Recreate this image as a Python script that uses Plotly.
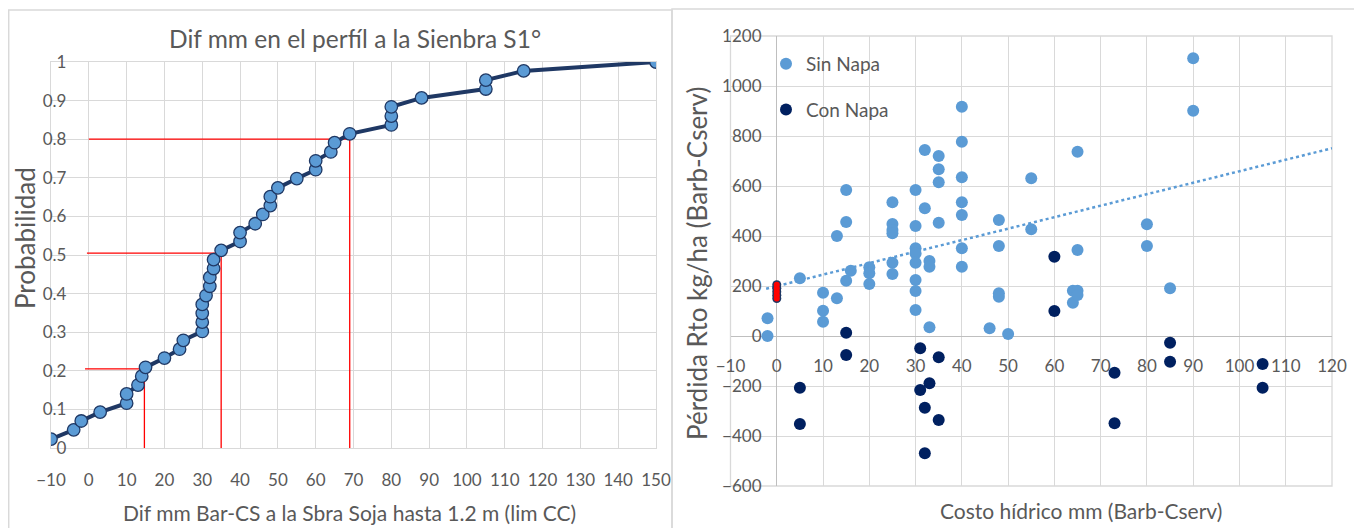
import plotly.graph_objects as go

# page body adds an 8px margin; the figure is sized/positioned to compensate
OFF = 8
W, H = 1362 - OFF, 528 - OFF
FONT = "Lato"
GRAY = "#595959"
GRID = "#D9D9D9"

# ---------------- Left chart data (cumulative probability) ----------------
dif_mm = [-10, -4, -2, 3, 10, 10, 13, 14, 15, 20, 24, 25, 30, 30, 30, 30, 31, 32, 32, 33,
          33, 35, 40, 40, 44, 46, 48, 48, 50, 55, 60, 60, 64, 65, 69, 80, 80, 80, 88, 105,
          105, 115, 150]
prob = [0.023, 0.047, 0.070, 0.093, 0.116, 0.140, 0.163, 0.186, 0.209, 0.233, 0.256, 0.279,
        0.302, 0.326, 0.349, 0.372, 0.395, 0.419, 0.442, 0.465, 0.488, 0.512, 0.535, 0.558,
        0.581, 0.605, 0.628, 0.651, 0.674, 0.698, 0.721, 0.744, 0.767, 0.791, 0.814, 0.837,
        0.860, 0.884, 0.907, 0.930, 0.953, 0.977, 1.000]

# red reference lines (probability level, x value, start of horizontal line)
guide_prob = [0.205, 0.505, 0.80]
guide_x = [14.7, 35, 69]
guide_start = [-1, -0.5, 0]

left_x_ticks = [-10, 0, 10, 20, 30, 40, 50, 60, 70, 80, 90, 100, 110, 120, 130, 140, 150]
left_y_ticks = [0, 0.1, 0.2, 0.3, 0.4, 0.5, 0.6, 0.7, 0.8, 0.9, 1]
left_y_labels = ["0", "0.1", "0.2", "0.3", "0.4", "0.5", "0.6", "0.7", "0.8", "0.9", "1"]

# ---------------- Right chart data (scatter) ----------------
sin_x = [-2, -2, 5, 10, 10, 10, 13, 13, 15, 15, 15, 16, 20, 20, 20,
         25, 25, 25, 25, 25, 25, 30, 30, 30, 30, 30, 30, 30, 30,
         32, 32, 33, 33, 33, 35, 35, 35, 35,
         40, 40, 40, 40, 40, 40, 40, 46, 48, 48, 48, 48, 50,
         55, 55, 64, 64, 65, 65, 65, 65, 80, 80, 85, 90, 90]
sin_y = [71, 0, 231, 173, 101, 57, 151, 400, 584, 456, 221, 261, 275, 251, 208,
         535, 448, 424, 411, 293, 248, 584, 440, 351, 330, 293, 224, 180, 104,
         744, 511, 300, 277, 35, 720, 667, 615, 453,
         917, 777, 635, 535, 484, 351, 277, 31, 464, 360, 171, 157, 8,
         631, 427, 181, 133, 181, 164, 737, 344, 447, 360, 191, 1111, 901]

con_x = [5, 5, 15, 15, 31, 31, 32, 32, 33, 35, 35, 60, 60, 73, 73, 85, 85, 105, 105]
con_y = [-207, -352, 13, -76, -49, -216, -287, -469, -189, -85, -336, 317, 100,
         -147, -349, -27, -103, -112, -207]

red_x = [0, 0, 0, 0, 0]
red_y = [150, 163, 177, 191, 205]

trend_x = [-2.3, 120]
trend_y = [189, 751]

right_x_ticks = [-10, 0, 10, 20, 30, 40, 50, 60, 70, 80, 90, 100, 110, 120]
right_y_ticks = [-600, -400, -200, 0, 200, 400, 600, 800, 1000, 1200]


def px_x(p):
    return (p - OFF) / W


def px_y(p):
    return 1 - (p - OFF) / H


fig = go.Figure()

# left chart traces
for gy, gx, gs in zip(guide_prob, guide_x, guide_start):
    fig.add_trace(go.Scatter(x=[gs, gx, gx], y=[gy, gy, 0], mode="lines",
                             line=dict(color="#FF0000", width=1.3),
                             xaxis="x", yaxis="y", showlegend=False, hoverinfo="skip"))

fig.add_trace(go.Scatter(x=dif_mm, y=prob, mode="lines+markers",
                         line=dict(color="#1F3864", width=4),
                         marker=dict(size=12.5, color="#5B9BD5",
                                     line=dict(color="#1F3864", width=1.3)),
                         xaxis="x", yaxis="y", showlegend=False))

# right chart traces
fig.add_trace(go.Scatter(x=trend_x, y=trend_y, mode="lines",
                         line=dict(color="#5B9BD5", width=2.5, dash="dot"),
                         xaxis="x2", yaxis="y2", showlegend=False, hoverinfo="skip"))
fig.add_trace(go.Scatter(x=sin_x, y=sin_y, mode="markers", name="Sin Napa",
                         marker=dict(size=12, color="#5B9BD5"),
                         xaxis="x2", yaxis="y2", legendgroup="a"))
fig.add_trace(go.Scatter(x=con_x, y=con_y, mode="markers", name="Con Napa",
                         marker=dict(size=12, color="#002060"),
                         xaxis="x2", yaxis="y2", legendgroup="b"))
fig.add_trace(go.Scatter(x=red_x, y=red_y, mode="markers",
                         marker=dict(size=9, color="#1F3864"),
                         xaxis="x2", yaxis="y2", showlegend=False, hoverinfo="skip"))
fig.add_trace(go.Scatter(x=red_x, y=red_y, mode="markers",
                         marker=dict(size=6, color="#FF0000"),
                         xaxis="x2", yaxis="y2", showlegend=False, hoverinfo="skip"))

tickfont = dict(family=FONT, size=17, color=GRAY)

fig.update_layout(
    width=W, height=H,
    margin=dict(l=0, r=0, t=0, b=0, autoexpand=False),
    paper_bgcolor="white", plot_bgcolor="white",
    font=dict(family=FONT, color=GRAY),
    xaxis=dict(domain=[px_x(51), px_x(656)], range=[-10, 150], tickvals=left_x_ticks,
               showgrid=True, gridcolor=GRID, gridwidth=1.3, zeroline=False,
               showline=True, linecolor=GRID, linewidth=1.3, mirror=True,
               ticks="", tickfont=tickfont, ticklabelstandoff=16, anchor="y",
               automargin=False),
    yaxis=dict(domain=[px_y(448), px_y(62)], range=[0, 1], tickvals=left_y_ticks,
               ticktext=left_y_labels,
               showgrid=True, gridcolor=GRID, gridwidth=1.3, zeroline=False,
               showline=True, linecolor=GRID, linewidth=1.3, mirror=True,
               ticks="", tickfont=tickfont, ticklabelstandoff=-20, anchor="x",
               automargin=False),
    xaxis2=dict(domain=[px_x(730.5), px_x(1332)], range=[-10, 120], tickvals=right_x_ticks,
                showgrid=True, gridcolor=GRID, gridwidth=1.3,
                zeroline=True, zerolinecolor="#BFBFBF", zerolinewidth=1.3,
                showline=False, ticks="", tickfont=tickfont,
                anchor="free", position=px_y(336), ticklabelstandoff=18,
                automargin=False),
    yaxis2=dict(domain=[px_y(486), px_y(36)], range=[-600, 1200], tickvals=right_y_ticks,
                showgrid=True, gridcolor=GRID, gridwidth=1.3,
                zeroline=True, zerolinecolor="#BFBFBF", zerolinewidth=1.3,
                showline=False, ticks="", tickfont=tickfont,
                anchor="x2", ticklabelstandoff=-32, automargin=False),
    legend=dict(x=px_x(766), y=px_y(45), xanchor="left", yanchor="top",
                bgcolor="rgba(0,0,0,0)", font=dict(family=FONT, size=19, color=GRAY),
                tracegroupgap=18, itemwidth=30),
    showlegend=True,
)

# chart frames and plot-area border for right chart
fig.add_shape(type="rect", xref="paper", yref="paper",
              x0=px_x(8.7), x1=px_x(672), y0=px_y(540), y1=px_y(10),
              line=dict(color=GRID, width=1.5), layer="below")
fig.add_shape(type="rect", xref="paper", yref="paper",
              x0=px_x(672), x1=px_x(1355), y0=px_y(540), y1=px_y(9),
              line=dict(color=GRID, width=1.5), layer="below")
fig.add_shape(type="rect", xref="x2 domain", yref="y2 domain",
              x0=0, x1=1, y0=0, y1=1, line=dict(color=GRID, width=1.3), layer="below")

# titles
ann = [
    dict(text="Dif mm en el perfíl a la Sienbra S1°", x=px_x(355), y=px_y(38), size=24.5, angle=0),
    dict(text="Probabilidad", x=px_x(25), y=px_y(238), size=26, angle=-90),
    dict(text="Dif mm Bar-CS a la Sbra Soja hasta 1.2 m (lim CC)", x=px_x(349), y=px_y(512), size=21, angle=0),
    dict(text="Pérdida Rto kg/ha (Barb-Cserv)", x=px_x(697), y=px_y(263), size=26, angle=-90),
    dict(text="Costo hídrico mm (Barb-Cserv)", x=px_x(1081), y=px_y(510), size=21, angle=0),
]
for a in ann:
    fig.add_annotation(text=a["text"], x=a["x"], y=a["y"], xref="paper", yref="paper",
                       xanchor="center", yanchor="middle", showarrow=False,
                       textangle=a["angle"], font=dict(family=FONT, size=a["size"], color=GRAY))

fig.write_html("out.html")
